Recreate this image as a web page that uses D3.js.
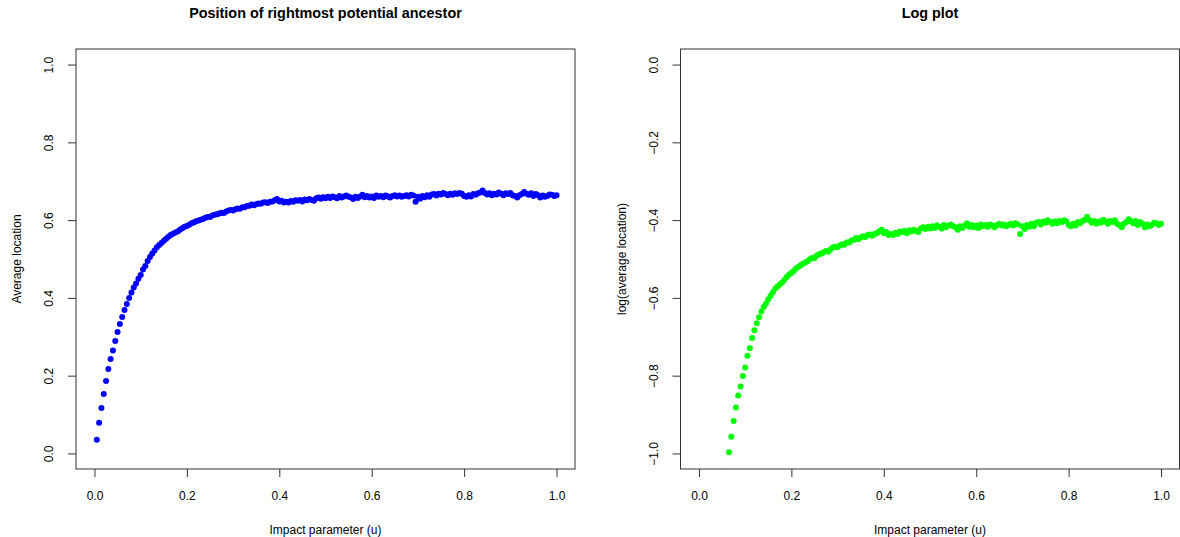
<!DOCTYPE html>
<meta charset="utf-8">
<style>
body { margin: 0; background: #fff; }
svg { display: block; }
.title { font: bold 14.4px "Liberation Sans", Arial, sans-serif; text-anchor: middle; }
.lab { font: 12px "Liberation Sans", Arial, sans-serif; text-anchor: middle; }
.axis text { font: 12px "Liberation Sans", Arial, sans-serif; fill: #000; }
.axis line { stroke: #333; }
.box { fill: none; stroke: #333; stroke-width: 1; }
</style>
<svg width="1180" height="537"></svg>
<script src="https://d3js.org/d3.v7.min.js"></script>
<script>
// impact parameter grid (u)
var impact = [
  0.005,0.010,0.015,0.020,0.025,0.030,0.035,0.040,0.045,0.050,0.055,0.060,0.065,0.070,0.075,0.080,0.085,0.090,0.095,0.100,
  0.105,0.110,0.115,0.120,0.125,0.130,0.135,0.140,0.145,0.150,0.155,0.160,0.165,0.170,0.175,0.180,0.185,0.190,0.195,0.200,
  0.205,0.210,0.215,0.220,0.225,0.230,0.235,0.240,0.245,0.250,0.255,0.260,0.265,0.270,0.275,0.280,0.285,0.290,0.295,0.300,
  0.305,0.310,0.315,0.320,0.325,0.330,0.335,0.340,0.345,0.350,0.355,0.360,0.365,0.370,0.375,0.380,0.385,0.390,0.395,0.400,
  0.405,0.410,0.415,0.420,0.425,0.430,0.435,0.440,0.445,0.450,0.455,0.460,0.465,0.470,0.475,0.480,0.485,0.490,0.495,0.500,
  0.505,0.510,0.515,0.520,0.525,0.530,0.535,0.540,0.545,0.550,0.555,0.560,0.565,0.570,0.575,0.580,0.585,0.590,0.595,0.600,
  0.605,0.610,0.615,0.620,0.625,0.630,0.635,0.640,0.645,0.650,0.655,0.660,0.665,0.670,0.675,0.680,0.685,0.690,0.695,0.700,
  0.705,0.710,0.715,0.720,0.725,0.730,0.735,0.740,0.745,0.750,0.755,0.760,0.765,0.770,0.775,0.780,0.785,0.790,0.795,0.800,
  0.805,0.810,0.815,0.820,0.825,0.830,0.835,0.840,0.845,0.850,0.855,0.860,0.865,0.870,0.875,0.880,0.885,0.890,0.895,0.900,
  0.905,0.910,0.915,0.920,0.925,0.930,0.935,0.940,0.945,0.950,0.955,0.960,0.965,0.970,0.975,0.980,0.985,0.990,0.995,1.000
];
// average location of rightmost potential ancestor
var avgLocation = [
  0.035,0.079,0.117,0.153,0.186,0.217,0.243,0.265,0.289,0.312,0.333,0.351,0.369,0.384,0.400,0.414,0.427,0.437,0.449,0.459,
  0.473,0.482,0.495,0.505,0.514,0.522,0.530,0.536,0.541,0.547,0.552,0.557,0.562,0.565,0.568,0.571,0.575,0.579,0.583,0.585,
  0.588,0.592,0.594,0.597,0.599,0.601,0.603,0.606,0.608,0.608,0.612,0.614,0.615,0.617,0.619,0.618,0.622,0.625,0.626,0.625,
  0.628,0.630,0.629,0.633,0.633,0.636,0.637,0.640,0.638,0.641,0.643,0.642,0.645,0.646,0.644,0.647,0.648,0.651,0.654,0.648,
  0.650,0.645,0.647,0.645,0.649,0.647,0.651,0.650,0.652,0.648,0.653,0.651,0.654,0.652,0.650,0.656,0.658,0.655,0.659,0.656,
  0.660,0.657,0.661,0.659,0.656,0.662,0.658,0.661,0.663,0.660,0.658,0.654,0.660,0.657,0.661,0.665,0.659,0.662,0.658,0.661,
  0.657,0.663,0.660,0.662,0.659,0.663,0.661,0.658,0.662,0.664,0.661,0.663,0.660,0.662,0.664,0.661,0.665,0.663,0.647,0.660,
  0.655,0.662,0.659,0.664,0.660,0.666,0.667,0.663,0.668,0.666,0.670,0.667,0.664,0.668,0.665,0.669,0.667,0.670,0.668,0.662,
  0.660,0.664,0.661,0.667,0.665,0.669,0.671,0.676,0.670,0.666,0.669,0.664,0.668,0.666,0.671,0.668,0.664,0.669,0.667,0.670,
  0.664,0.662,0.658,0.664,0.667,0.672,0.668,0.665,0.669,0.662,0.667,0.664,0.658,0.663,0.660,0.662,0.666,0.665,0.662,0.664
];
var xTicks = [0, 0.2, 0.4, 0.6, 0.8, 1.0];
var yTicksLeft = [0, 0.2, 0.4, 0.6, 0.8, 1.0];
var yTicksRight = [-1.0, -0.8, -0.6, -0.4, -0.2, 0];

var svg = d3.select("svg"),
    f = d3.format(".1f"),
    plotTop = 49, plotBottom = 469;

var panels = [
  { left: 76, right: 575, title: "Position of rightmost potential ancestor",
    ylab: "Average location", ydom: [-0.04, 1.04], yticks: yTicksLeft,
    color: "#0000ff", id: "clipL",
    y: avgLocation },
  { left: 680.5, right: 1179.5, title: "Log plot",
    ylab: "log(average location)", ydom: [-1.04, 0.04], yticks: yTicksRight,
    color: "#00ff00", id: "clipR",
    y: avgLocation.map(function(v) { return Math.log(v); }) }
];

panels.forEach(function(p) {
  var x = d3.scaleLinear().domain([-0.04, 1.04]).range([p.left, p.right]);
  var y = d3.scaleLinear().domain(p.ydom).range([plotBottom, plotTop]);
  var cx = (p.left + p.right) / 2;

  svg.append("clipPath").attr("id", p.id)
    .append("rect")
    .attr("x", p.left).attr("y", plotTop)
    .attr("width", p.right - p.left).attr("height", plotBottom - plotTop);

  // points
  svg.append("g").attr("clip-path", "url(#" + p.id + ")")
    .selectAll("circle")
    .data(impact).enter()
    .append("circle")
    .attr("cx", function(d) { return x(d); })
    .attr("cy", function(d, i) { return y(p.y[i]); })
    .attr("r", 3)
    .attr("fill", p.color);

  // box
  svg.append("rect").attr("class", "box")
    .attr("x", p.left).attr("y", plotTop)
    .attr("width", p.right - p.left).attr("height", plotBottom - plotTop);

  // x axis
  var gx = svg.append("g").attr("class", "axis")
    .attr("transform", "translate(0," + plotBottom + ")")
    .call(d3.axisBottom(x).tickValues(xTicks).tickFormat(f).tickSize(8).tickSizeOuter(0));
  gx.select(".domain").remove();
  gx.selectAll("text").attr("y", 31).attr("dy", null);

  // y axis
  var gy = svg.append("g").attr("class", "axis")
    .attr("transform", "translate(" + p.left + ",0)")
    .call(d3.axisLeft(y).tickValues(p.yticks).tickFormat(f).tickSize(8).tickSizeOuter(0));
  gy.select(".domain").remove();
  gy.selectAll("text")
    .attr("x", null).attr("dy", null)
    .attr("text-anchor", "middle")
    .attr("dominant-baseline", "central")
    .attr("transform", "translate(-27,0) rotate(-90)");

  svg.append("text").attr("class", "title")
    .attr("x", cx).attr("y", 18).text(p.title);
  svg.append("text").attr("class", "lab")
    .attr("x", (x(0) + x(1)) / 2).attr("y", 534).text("Impact parameter (u)");
  svg.append("text").attr("class", "lab")
    .attr("transform", "translate(" + (p.left - 55) + "," + ((plotTop + plotBottom) / 2) + ") rotate(-90)")
    .text(p.ylab);
});
</script>
